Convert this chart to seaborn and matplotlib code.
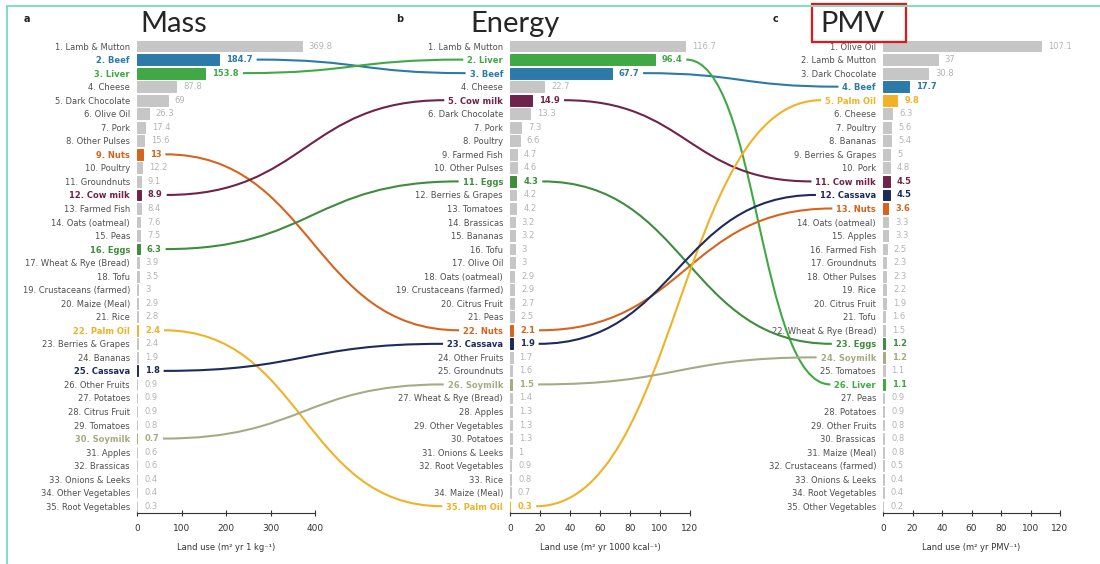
import numpy as np
import pandas as pd
import matplotlib
matplotlib.use("Agg")
import matplotlib.pyplot as plt
import seaborn as sns
from matplotlib.path import Path
from matplotlib.patches import PathPatch, Rectangle
from matplotlib.lines import Line2D

sns.set_theme(style="white")
plt.rcParams['font.family'] = ['DejaVu Sans']

# Land use per food, ranked, for the three functional units
mass_foods = ["Lamb & Mutton", "Beef", "Liver", "Cheese", "Dark Chocolate", "Olive Oil", "Pork",
              "Other Pulses", "Nuts", "Poultry", "Groundnuts", "Cow milk", "Farmed Fish",
              "Oats (oatmeal)", "Peas", "Eggs", "Wheat & Rye (Bread)", "Tofu", "Crustaceans (farmed)",
              "Maize (Meal)", "Rice", "Palm Oil", "Berries & Grapes", "Bananas", "Cassava",
              "Other Fruits", "Potatoes", "Citrus Fruit", "Tomatoes", "Soymilk", "Apples",
              "Brassicas", "Onions & Leeks", "Other Vegetables", "Root Vegetables"]
mass_values = [369.8, 184.7, 153.8, 87.8, 69, 26.3, 17.4, 15.6, 13, 12.2, 9.1, 8.9, 8.4, 7.6, 7.5,
               6.3, 3.9, 3.5, 3, 2.9, 2.8, 2.4, 2.4, 1.9, 1.8, 0.9, 0.9, 0.9, 0.8, 0.7, 0.6, 0.6,
               0.4, 0.4, 0.3]

energy_foods = ["Lamb & Mutton", "Liver", "Beef", "Cheese", "Cow milk", "Dark Chocolate", "Pork",
                "Poultry", "Farmed Fish", "Other Pulses", "Eggs", "Berries & Grapes", "Tomatoes",
                "Brassicas", "Bananas", "Tofu", "Olive Oil", "Oats (oatmeal)", "Crustaceans (farmed)",
                "Citrus Fruit", "Peas", "Nuts", "Cassava", "Other Fruits", "Groundnuts", "Soymilk",
                "Wheat & Rye (Bread)", "Apples", "Other Vegetables", "Potatoes", "Onions & Leeks",
                "Root Vegetables", "Rice", "Maize (Meal)", "Palm Oil"]
energy_values = [116.7, 96.4, 67.7, 22.7, 14.9, 13.3, 7.3, 6.6, 4.7, 4.6, 4.3, 4.2, 4.2, 3.2, 3.2,
                 3, 3, 2.9, 2.9, 2.7, 2.5, 2.1, 1.9, 1.7, 1.6, 1.5, 1.4, 1.3, 1.3, 1.3, 1, 0.9,
                 0.8, 0.7, 0.3]

pmv_foods = ["Olive Oil", "Lamb & Mutton", "Dark Chocolate", "Beef", "Palm Oil", "Cheese", "Poultry",
             "Bananas", "Berries & Grapes", "Pork", "Cow milk", "Cassava", "Nuts", "Oats (oatmeal)",
             "Apples", "Farmed Fish", "Groundnuts", "Other Pulses", "Rice", "Citrus Fruit", "Tofu",
             "Wheat & Rye (Bread)", "Eggs", "Soymilk", "Tomatoes", "Liver", "Peas", "Potatoes",
             "Other Fruits", "Brassicas", "Maize (Meal)", "Crustaceans (farmed)", "Onions & Leeks",
             "Root Vegetables", "Other Vegetables"]
pmv_values = [107.1, 37, 30.8, 17.7, 9.8, 6.3, 5.6, 5.4, 5, 4.8, 4.5, 4.5, 3.6, 3.3, 3.3, 2.5, 2.3,
              2.3, 2.2, 1.9, 1.6, 1.5, 1.2, 1.2, 1.1, 1.1, 0.9, 0.9, 0.8, 0.8, 0.8, 0.5, 0.4, 0.4, 0.2]

highlight = {"Beef": "#2b7aa7", "Liver": "#41a846", "Nuts": "#d6641f", "Cow milk": "#70234a",
             "Eggs": "#3e8c3e", "Palm Oil": "#f0b226", "Cassava": "#1c2b5c", "Soymilk": "#a8aa84"}
bar_grey = "#c6c6c6"
value_grey = "#b4b4b4"
label_grey = "#505050"

fig = plt.figure(figsize=(11, 5.64), dpi=100)
bottom, height = 1 - 513 / 564, (513 - 39.3) / 564


def draw_panel(rect, foods, values, xmax, step, xlabel):
    ax = fig.add_axes(rect)
    df = pd.DataFrame({"food": foods, "value": values})
    pal = {f: highlight.get(f, bar_grey) for f in foods}
    sns.barplot(data=df, x="value", y="food", hue="food", palette=pal, legend=False,
                saturation=1, width=0.8, ax=ax)
    for p in ax.patches:
        p.set_edgecolor(p.get_facecolor())
        p.set_linewidth(0.7)
    ax.set_yticks(range(len(foods)))
    ax.set_yticklabels([f"{i + 1}. {f}" for i, f in enumerate(foods)])
    for lab, f in zip(ax.get_yticklabels(), foods):
        lab.set_color(highlight.get(f, label_grey))
        if f in highlight:
            lab.set_fontweight("bold")
    anns = {}
    for i, (f, v) in enumerate(zip(foods, values)):
        anns[f] = ax.annotate(f"{v:g}", xy=(v, i), xytext=(5, 0), textcoords="offset points",
                              va="center", ha="left", fontsize=6,
                              color=highlight.get(f, value_grey),
                              fontweight="bold" if f in highlight else "normal")
    ax.set_xlim(0, xmax)
    ax.set_ylim(len(foods) - 0.5, -0.5)
    ax.set_xticks(np.arange(0, xmax + 1, step))
    ax.set_ylabel("")
    ax.set_xlabel(xlabel, fontsize=6, color="#333333", labelpad=7)
    sns.despine(ax=ax, left=True)
    ax.spines["bottom"].set_color("#333333")
    ax.spines["bottom"].set_linewidth(0.8)
    ax.tick_params(axis="y", length=0, pad=5, labelsize=6)
    ax.tick_params(axis="x", direction="inout", length=4, width=0.8, labelsize=6.5,
                   pad=6, colors="#333333", bottom=True)
    return ax, anns


ax_a, ann_a = draw_panel([137 / 1100, bottom, 178 / 1100, height], mass_foods, mass_values,
                         400, 100, "Land use (m² yr 1 kg⁻¹)")
ax_b, ann_b = draw_panel([510 / 1100, bottom, 180 / 1100, height], energy_foods, energy_values,
                         120, 20, "Land use (m² yr 1000 kcal⁻¹)")
ax_c, ann_c = draw_panel([883 / 1100, bottom, 177 / 1100, height], pmv_foods, pmv_values,
                         120, 20, "Land use (m² yr PMV⁻¹)")

# curves linking the highlighted foods between panels
fig.canvas.draw()
renderer = fig.canvas.get_renderer()
to_fig = fig.transFigure.inverted()


def connect(food, lax, lfoods, lann, rax, rfoods):
    i, j = lfoods.index(food), rfoods.index(food)
    x0 = lann[food].get_window_extent(renderer).x1 + 4
    y0 = lax.transData.transform((0, i))[1]
    x1 = rax.get_yticklabels()[j].get_window_extent(renderer).x0 - 4
    y1 = rax.transData.transform((0, j))[1]
    xm = (x0 + x1) / 2
    verts = to_fig.transform([(x0, y0), (xm, y0), (xm, y1), (x1, y1)])
    path = Path(verts, [Path.MOVETO, Path.CURVE4, Path.CURVE4, Path.CURVE4])
    fig.add_artist(PathPatch(path, fc="none", ec=highlight[food], lw=1.5,
                             transform=fig.transFigure))


for food in highlight:
    connect(food, ax_a, mass_foods, ann_a, ax_b, energy_foods)
    connect(food, ax_b, energy_foods, ann_b, ax_c, pmv_foods)

# titles, panel letters and frame
title_font = ['Lato', 'DejaVu Sans']
fig.text(140 / 1100, 1 - 32 / 564, "Mass", fontsize=21, family=title_font, va="baseline")
fig.text(470 / 1100, 1 - 32 / 564, "Energy", fontsize=21, family=title_font, va="baseline")
fig.text(820 / 1100, 1 - 32 / 564, "PMV", fontsize=21, family=title_font, va="baseline")
fig.add_artist(Rectangle((812 / 1100, 1 - 42 / 564), 94 / 1100, 38 / 564, fill=False,
                         ec="#e8141b", lw=1.6, transform=fig.transFigure))
for letter, x in [("a", 24), ("b", 396), ("c", 773)]:
    fig.text(x / 1100, 1 - 22 / 564, letter, fontsize=7, fontweight="bold", color="#222222")
fig.add_artist(Line2D([7 / 1100, 7 / 1100], [0, 1 - 6 / 564], color="#86dcc6", lw=1.5))
fig.add_artist(Line2D([7 / 1100, 1], [1 - 6 / 564, 1 - 6 / 564], color="#86dcc6", lw=1.5))

fig.savefig("out.png", dpi=100)
